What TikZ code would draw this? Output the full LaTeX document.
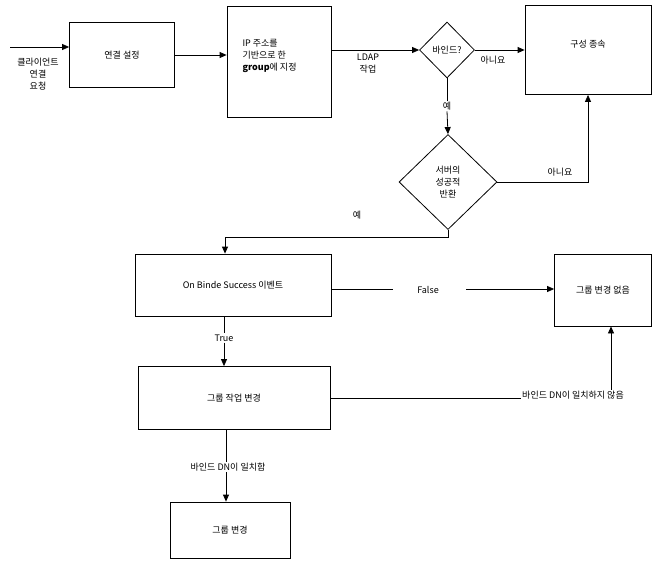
\documentclass[tikz,border=0pt]{standalone}
\usepackage{fontspec}
\setmainfont{Noto Sans CJK KR}
\usetikzlibrary{arrows.meta,shapes.geometric}
\begin{document}
\begin{tikzpicture}[x=1pt,y=-1pt,font=\fontsize{9}{12}\selectfont,
 box/.style={draw,thick,minimum width=#1,inner sep=0pt,align=center},
 dia/.style={draw,thick,diamond,inner sep=0pt,align=center},
 arr/.style={-{Triangle[length=7pt,width=6pt]},thick},
 ln/.style={thick},
 lab/.style={inner sep=1pt,align=center}]
\useasboundingbox (0,0) rectangle (658,564);
\node[box=105pt,minimum height=65pt] (conn) at (122,55) {연결 설정};
\node[box=104pt,minimum height=111pt] (ip) at (279,62) {};
\node[align=left,anchor=north west] (iptxt) at (239,36) {IP 주소를\\기반으로 한\\\textbf{group}에 지정};
\node[dia,minimum width=55pt,minimum height=56pt] (bind) at (447,50) {바인드?};
\node[box=126pt,minimum height=89pt] (end) at (588,50) {};
\node[anchor=north] (endtxt) at (588,37) {구성 종속};
\node[dia,minimum width=98pt,minimum height=95pt] (srv) at (448,182) {서버의\\성공적\\반환};
\node[box=196pt,minimum height=62pt] (on) at (233,285) {On Binde Success 이벤트};
\node[box=97pt,minimum height=72pt] (none) at (603,290) {그룹 변경 없음};
\node[box=192pt,minimum height=63pt] (grp) at (234,398) {그룹 작업 변경};
\node[box=120pt,minimum height=56pt] (chg) at (230,530) {그룹 변경};
\coordinate (in) at (10,47);
\node[lab] (cl) at (38,74) {클라이언트\\연결\\요청};
\draw[arr] (in) -- (in -| conn.west);
\draw[arr] (conn.east) -- (conn.east -| ip.west);
\draw[arr] (ip.east |- bind) -- (bind.west);
\node[lab] (ldap) at (368,64) {LDAP\\작업};
\draw[arr] (bind.east) -- (bind.east -| end.west);
\node[lab] (no1) at (493,60) {아니요};
\node[lab,fill=white] (yes1) at (447,106) {예};
\draw[ln] (bind.south) -- (yes1.north);
\draw[arr] (yes1.south) -- (srv.north);
\draw[arr] (srv.east) -| (end.south);
\node[lab] (no2) at (560,172) {아니요};
\draw[arr] (srv.south) -- (448,237) -| (on.north -| 225,0);
\node[lab] (yes2) at (357,215) {예};
\node[lab,fill=white] (tr) at (224,338) {True};
\draw[ln] (on.south -| 224,0) -- (tr.north);
\draw[arr] (tr.south) -- (grp.north -| 224,0);
\node[lab] (fa) at (428,290) {False};
\draw[ln] (on.east |- 0,289) -- (393,289);
\draw[arr] (466,289) -- (none.west |- 0,289);
\node[lab] (nm) at (573,395) {바인드 DN이 일치하지 않음};
\draw[ln] (grp.east |- 0,398) -- (nm.west |- 0,398);
\draw[arr] (nm.north -| 611,0) -- (none.south -| 611,0);
\node[lab] (mt) at (228,467) {바인드 DN이 일치함};
\draw[ln] (grp.south -| 226,0) -- (mt.north -| 226,0);
\draw[arr] (mt.south -| 226,0) -- (chg.north -| 226,0);
\end{tikzpicture}
\end{document}
